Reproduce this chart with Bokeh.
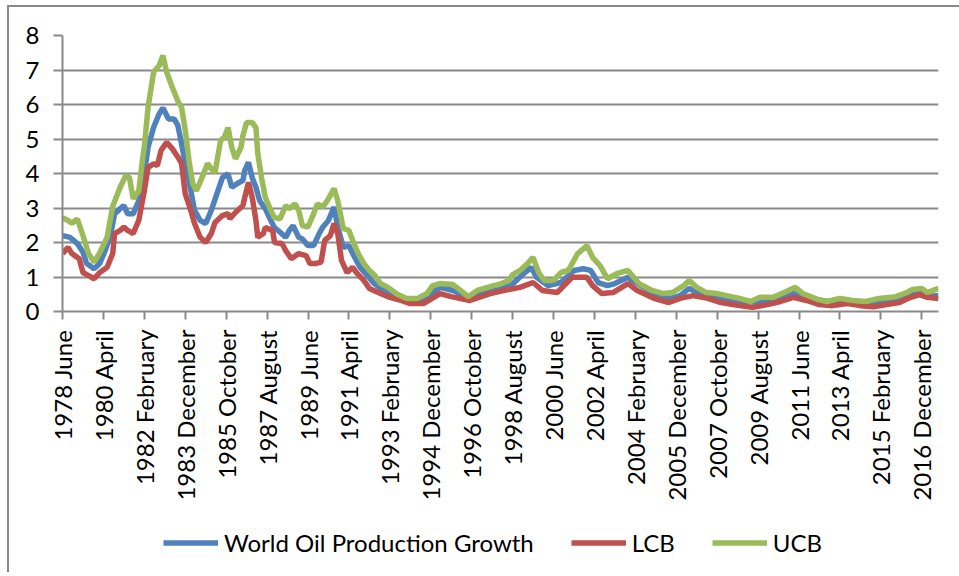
import math
from bokeh.plotting import figure
from bokeh.layouts import column
from bokeh.models import Range1d, FixedTicker, Legend, LegendItem
from bokeh.embed import file_html
from bokeh.resources import INLINE

# Month index counted from 1978 June (0) to 2017 September (471)
tick_labels = ["1978 June", "1980 April", "1982 February", "1983 December", "1985 October",
               "1987 August", "1989 June", "1991 April", "1993 February", "1994 December",
               "1996 October", "1998 August", "2000 June", "2002 April", "2004 February",
               "2005 December", "2007 October", "2009 August", "2011 June", "2013 April",
               "2015 February", "2016 December"]
tick_step_months = 22
last_month = 471

world_m = [0, 4, 8, 11, 13, 17, 20, 23, 26, 28, 31, 33, 35, 38, 41, 44, 46, 49, 52, 54, 57, 60, 62, 64,
           66, 69, 71, 74, 77, 80, 83, 86, 89, 91, 94, 97, 98, 100, 102, 104, 106, 109, 112, 114, 117,
           120, 122, 124, 127, 129, 132, 135, 138, 140, 143, 146, 148, 151, 154, 156, 160, 164, 167,
           171, 176, 182, 187, 194, 203, 210, 218, 230, 241, 248, 252, 255, 261, 268, 275, 280, 284,
           288, 293, 297, 304, 311, 320, 327, 332, 337, 343, 354, 365, 375, 387, 393, 402, 413, 423,
           439, 450, 458, 463, 466, 471]
world_v = [2.2, 2.15, 1.97, 1.72, 1.39, 1.24, 1.39, 1.77, 2.26, 2.83, 2.98, 3.07, 2.83, 2.83, 3.21, 3.99,
           4.76, 5.34, 5.73, 5.9, 5.58, 5.58, 5.4, 4.86, 4.28, 3.5, 2.93, 2.64, 2.55, 2.93, 3.41, 3.88,
           3.99, 3.6, 3.71, 3.8, 4.09, 4.32, 3.88, 3.6, 3.21, 2.98, 2.64, 2.43, 2.3, 2.15, 2.35, 2.49,
           2.15, 2.1, 1.91, 1.91, 2.26, 2.45, 2.64, 3.03, 2.45, 1.86, 1.91, 1.68, 1.28, 1.04, 0.84,
           0.67, 0.55, 0.38, 0.32, 0.38, 0.7, 0.61, 0.41, 0.61, 0.75, 1.1, 1.28, 0.99, 0.75, 0.84,
           1.19, 1.24, 1.19, 0.84, 0.75, 0.81, 0.99, 0.75, 0.46, 0.38, 0.46, 0.67, 0.49, 0.38, 0.3,
           0.26, 0.38, 0.52, 0.38, 0.28, 0.26, 0.24, 0.32, 0.5, 0.55, 0.45, 0.46]

lcb_m = [0, 3, 5, 9, 11, 14, 17, 20, 24, 27, 28, 31, 33, 35, 38, 41, 44, 46, 49, 51, 53, 56, 59, 62, 64,
         66, 69, 71, 74, 77, 80, 82, 86, 89, 90, 93, 97, 98, 100, 102, 104, 105, 108, 109, 113, 114,
         118, 120, 123, 127, 131, 133, 136, 139, 141, 144, 146, 148, 150, 153, 156, 158, 162, 165,
         171, 176, 182, 187, 194, 203, 209, 219, 230, 237, 246, 253, 258, 266, 274, 282, 285, 290,
         296, 304, 309, 318, 326, 332, 339, 347, 354, 364, 371, 379, 386, 393, 400, 407, 414, 422,
         429, 436, 443, 450, 456, 461, 465, 471]
lcb_v = [1.68, 1.86, 1.68, 1.53, 1.13, 1.04, 0.95, 1.13, 1.28, 1.68, 2.26, 2.35, 2.45, 2.35, 2.26, 2.64,
         3.5, 4.18, 4.28, 4.23, 4.67, 4.9, 4.72, 4.48, 4.29, 3.41, 2.93, 2.55, 2.15, 2.0, 2.26, 2.58,
         2.78, 2.84, 2.69, 2.87, 3.07, 3.31, 3.74, 3.31, 2.64, 2.15, 2.26, 2.43, 2.35, 2.0, 1.97, 1.77,
         1.53, 1.68, 1.62, 1.39, 1.39, 1.43, 2.06, 2.2, 2.55, 2.26, 1.48, 1.13, 1.28, 1.13, 0.9, 0.67,
         0.52, 0.41, 0.32, 0.23, 0.23, 0.52, 0.43, 0.32, 0.52, 0.61, 0.7, 0.84, 0.61, 0.55, 0.99, 0.99,
         0.75, 0.52, 0.55, 0.81, 0.61, 0.38, 0.26, 0.38, 0.46, 0.38, 0.26, 0.17, 0.12, 0.2, 0.29, 0.41,
         0.32, 0.2, 0.17, 0.23, 0.17, 0.14, 0.2, 0.26, 0.41, 0.49, 0.41, 0.38]

ucb_m = [0, 3, 5, 8, 11, 14, 17, 20, 24, 27, 31, 34, 36, 38, 41, 43, 44, 46, 49, 52, 54, 56, 59, 62, 64,
         66, 68, 70, 72, 75, 78, 80, 82, 85, 87, 89, 91, 93, 96, 97, 99, 102, 104, 105, 107, 109, 112,
         114, 117, 120, 122, 125, 127, 129, 132, 135, 137, 140, 143, 146, 148, 151, 154, 156, 159, 162,
         165, 168, 171, 175, 180, 185, 191, 196, 199, 203, 210, 214, 218, 223, 230, 236, 240, 242, 246,
         250, 253, 256, 259, 264, 268, 272, 277, 282, 285, 289, 293, 298, 304, 310, 317, 323, 328, 334,
         337, 341, 346, 352, 357, 364, 370, 375, 382, 388, 394, 398, 406, 411, 418, 425, 432, 439, 448,
         454, 457, 462, 465, 471]
ucb_v = [2.72, 2.64, 2.56, 2.68, 2.2, 1.68, 1.43, 1.7, 2.15, 3.05, 3.6, 3.94, 3.88, 3.27, 3.5, 4.4, 4.76,
         5.92, 6.94, 7.13, 7.42, 6.94, 6.5, 6.1, 5.92, 5.25, 4.38, 3.71, 3.5, 3.88, 4.29, 4.14, 4.03,
         4.96, 5.05, 5.33, 4.76, 4.43, 4.76, 5.1, 5.48, 5.48, 5.33, 4.58, 3.88, 3.31, 2.93, 2.72, 2.69,
         3.07, 2.98, 3.12, 2.93, 2.49, 2.45, 2.83, 3.12, 3.03, 3.27, 3.56, 3.21, 2.4, 2.35, 2.06, 1.68,
         1.39, 1.19, 1.04, 0.81, 0.7, 0.5, 0.38, 0.38, 0.52, 0.75, 0.81, 0.78, 0.61, 0.43, 0.61, 0.72,
         0.81, 0.9, 1.07, 1.19, 1.39, 1.57, 1.13, 0.9, 0.9, 1.13, 1.19, 1.68, 1.91, 1.57, 1.33, 0.95,
         1.1, 1.19, 0.81, 0.61, 0.52, 0.55, 0.75, 0.9, 0.7, 0.55, 0.52, 0.46, 0.38, 0.29, 0.41, 0.41,
         0.55, 0.7, 0.52, 0.35, 0.29, 0.38, 0.32, 0.29, 0.38, 0.43, 0.55, 0.64, 0.67, 0.55, 0.67]

series_names = ["World Oil Production Growth", "LCB", "UCB"]
series_colors = ["#4F81BD", "#C0504D", "#9BBB59"]
y_ticks = [0, 1, 2, 3, 4, 5, 6, 7, 8]

FONT = "Lato"
GRID = "#898989"

p = figure(frame_width=876, frame_height=276, output_backend="svg", toolbar_location=None,
           x_range=Range1d(0, last_month), y_range=Range1d(0, 8),
           min_border_left=53, min_border_right=12, min_border_top=28, min_border_bottom=0)
p.outline_line_color = None
p.background_fill_color = "white"
p.border_fill_color = "white"

p.xgrid.visible = False
p.ygrid.grid_line_color = GRID
p.ygrid.grid_line_width = 2
p.ygrid.ticker = FixedTicker(ticks=y_ticks)

ticks = [i * tick_step_months for i in range(len(tick_labels))]
p.xaxis.ticker = FixedTicker(ticks=ticks)
p.xaxis.major_label_overrides = {t: lab for t, lab in zip(ticks, tick_labels)}
p.xaxis.major_label_orientation = math.pi / 2
p.yaxis.ticker = FixedTicker(ticks=y_ticks)

for ax in (p.xaxis[0], p.yaxis[0]):
    ax.axis_line_color = GRID
    ax.axis_line_width = 2
    ax.major_tick_line_color = GRID
    ax.major_tick_line_width = 2
    ax.major_tick_in = 0
    ax.minor_tick_line_color = None
    ax.major_label_text_font = FONT
    ax.major_label_text_font_size = "24px"
    ax.major_label_text_color = "black"
p.xaxis.major_tick_out = 8
p.xaxis.major_label_standoff = 10
p.yaxis.major_tick_out = 9
p.yaxis.major_label_standoff = 14

data = [(world_m, world_v), (lcb_m, lcb_v), (ucb_m, ucb_v)]
for (xm, yv), c in zip(data, series_colors):
    p.line(xm, yv, line_color=c, line_width=5.5)

# Legend strip below the chart (its own figure; the lines there lie outside its view)
leg = figure(width=950, height=69, output_backend="svg", toolbar_location=None,
             x_range=Range1d(0, last_month), y_range=Range1d(100, 101),
             x_axis_location=None, y_axis_location=None,
             min_border=0)
leg.outline_line_color = None
leg.grid.visible = False
items = []
for (xm, yv), c, name in zip(data, series_colors, series_names):
    r = leg.line(xm, yv, line_color=c, line_width=5.5)
    items.append(LegendItem(label=name, renderers=[r]))
legend = Legend(items=items, orientation="horizontal", location=(101, 15),
                glyph_width=55, glyph_height=29, label_standoff=6, spacing=37,
                label_text_font=FONT, label_text_font_size="24px", label_text_color="black",
                border_line_color=None, background_fill_alpha=0, padding=0, margin=0)
leg.add_layout(legend, "center")

layout = column(p, leg, spacing=0,
                styles={"border-left": "2px solid #898989", "border-top": "2px solid #898989",
                        "margin-left": "7px", "margin-top": "5px"})

open("out.html", "w").write(file_html(layout, INLINE))
